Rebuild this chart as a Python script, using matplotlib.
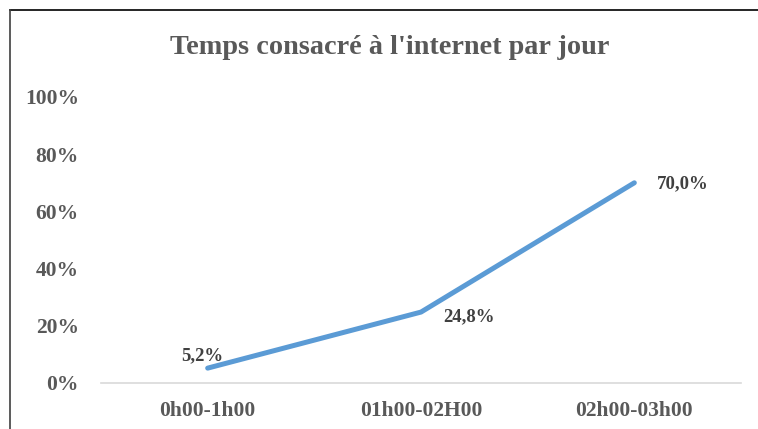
import matplotlib.pyplot as plt
from matplotlib.lines import Line2D

plt.rcParams['font.family'] = ['Liberation Serif', 'DejaVu Serif']

categories = ['0h00-1h00', '01h00-02H00', '02h00-03h00']
values = [5.2, 24.8, 70.0]
value_labels = ['5,2%', '24,8%', '70,0%']
y_ticks = [0, 20, 40, 60, 80, 100]

text_color = '#595959'

fig = plt.figure(figsize=(7.58, 4.29), dpi=100)
ax = fig.add_axes([101 / 758, 1 - 383 / 429, 640 / 758, 286 / 429])

x = range(len(categories))
ax.plot(x, values, color='#5B9BD5', linewidth=3.6, solid_capstyle='round')

ax.set_xlim(-0.5, 2.5)
ax.set_ylim(0, 100)
ax.set_xticks(list(x))
ax.set_xticklabels(categories)
ax.set_yticks(y_ticks)
ax.set_yticklabels([f'{t}%' for t in y_ticks])
ax.tick_params(length=0, labelsize=15.5, colors=text_color)
ax.tick_params(axis='y', pad=16)
ax.tick_params(axis='x', pad=13)
for lbl in ax.get_xticklabels() + ax.get_yticklabels():
    lbl.set_fontweight('bold')

for side in ['top', 'right', 'left']:
    ax.spines[side].set_visible(False)
ax.spines['bottom'].set_color('#d9d9d9')
ax.spines['bottom'].set_linewidth(1.2)

# data labels
offsets = [(-4, 3), (16, -3), (16, -1)]
aligns = [('center', 'bottom'), ('left', 'center'), ('left', 'center')]
for i, (v, t) in enumerate(zip(values, value_labels)):
    ax.annotate(t, (i, v), xytext=offsets[i], textcoords='offset points',
                ha=aligns[i][0], va=aligns[i][1], fontsize=13.5,
                fontweight='bold', color='#404040')

fig.text(390 / 758, 1 - 47 / 429, "Temps consacré à l'internet par jour",
         ha='center', va='center', fontsize=20.3, fontweight='bold', color=text_color)

# chart frame (top and left edges visible)
fig.add_artist(Line2D([10 / 758, 1], [1 - 10 / 429] * 2, color='black', linewidth=1.2))
fig.add_artist(Line2D([10 / 758] * 2, [0, 1 - 10 / 429], color='#404040', linewidth=1.2))

fig.savefig('out.png', dpi=100)
